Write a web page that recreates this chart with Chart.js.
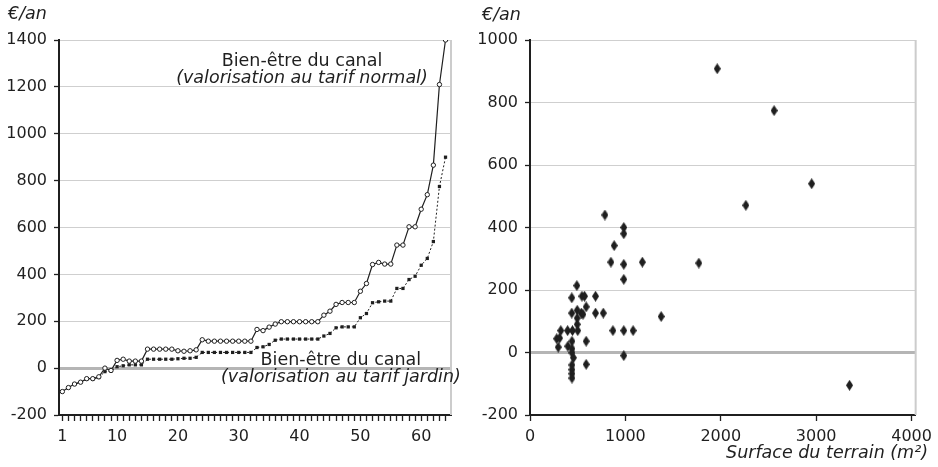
<!DOCTYPE html>
<html lang="fr">
<head>
<meta charset="utf-8">
<title>Bien-être du canal</title>
<script src="https://cdn.jsdelivr.net/npm/chart.js@4.4.1/dist/chart.umd.min.js"></script>
<style>
  html, body { margin: 0; padding: 0; background: #fff; }
  #cadre { position: relative; width: 938px; height: 467px; }
  .panneau { position: absolute; top: 0; width: 469px; height: 467px; }
</style>
</head>
<body>
<div id="cadre">
  <div class="panneau" style="left:0"><canvas id="gauche" width="469" height="467"></canvas></div>
  <div class="panneau" style="left:469px"><canvas id="droite" width="469" height="467"></canvas></div>
</div>
<script>
// Rang des ménages (graphique de gauche)
const rangs = [1,2,3,4,5,6,7,8,9,10,11,12,13,14,15,16,17,18,19,20,21,22,23,24,25,26,27,28,29,30,31,32,
  33,34,35,36,37,38,39,40,41,42,43,44,45,46,47,48,49,50,51,52,53,54,55,56,57,58,59,60,61,62,63,64];

// Bien-être du canal, valorisation au tarif normal (€/an)
const tarifNormal = [-100,-83,-68,-60,-45,-45,-37,0,-10,33,38,30,30,30,81,81,81,81,81,74,72,74,78,121,
  115,115,115,115,115,115,115,115,165,160,175,188,198,198,198,198,198,198,198,226,243,272,280,280,280,
  328,361,442,451,444,444,525,525,603,603,678,740,866,1210,1400];

// Bien-être du canal, valorisation au tarif jardin (€/an)
const tarifJardin = [-100,-83,-68,-60,-47,-47,-40,-15,-12,6,10,14,14,14,38,38,38,38,38,40,42,42,46,67,
  67,67,67,67,67,67,67,67,88,91,101,119,124,124,124,124,124,124,124,137,148,172,176,176,176,
  215,233,279,283,286,286,340,340,378,392,439,468,540,775,900];

// Graphique de droite : surface du terrain (m²) et bien-être (€/an)
const surfaces = [280,310,296,323,394,397,438,438,445,440,440,440,455,440,440,440,440,491,495,495,495,500,
  545,572,539,555,589,589,589,687,687,768,785,848,882,983,983,983,983,869,983,1081,983,1178,1375,
  1770,1963,2263,2559,2953,3350];
const bienEtre = [44,46,17,70,70,20,175,126,70,36,12,-1,-17,-40,-55,-68,-82,214,135,110,90,70,
  180,180,126,122,146,36,-38,180,126,126,440,289,342,400,380,282,234,70,70,70,-10,289,115,
  286,908,471,774,540,-105];

const ticksGauche = [-200,0,200,400,600,800,1000,1200,1400];
const ticksDroiteY = [-200,0,200,400,600,800,1000];
const ticksDroiteX = [0,1000,2000,3000,4000];

const ENCRE = '#1f1f1f';
const POLICE = 'DejaVu Sans';

// Textes libres (titres d'axes et étiquettes des courbes)
const textes = {
  id: 'textes',
  afterDraw(chart, args, opts) {
    const ctx = chart.ctx;
    ctx.save();
    ctx.fillStyle = ENCRE;
    ctx.textBaseline = 'middle';
    for (const t of opts.items || []) {
      ctx.font = (t.italique ? 'italic ' : '') + '17.5px "' + POLICE + '"';
      ctx.textAlign = t.align || 'center';
      const x = t.dx !== undefined ? chart.scales.x.getPixelForValue(t.dx) : t.px;
      const y = t.dy !== undefined ? chart.scales.y.getPixelForValue(t.dy) : t.py;
      ctx.fillText(t.texte, x, y);
    }
    ctx.restore();
  }
};

// Bordure droite grise de la zone de tracé
const bordDroit = {
  id: 'bordDroit',
  beforeDatasetsDraw(chart) {
    const { ctx, chartArea } = chart;
    ctx.save();
    ctx.strokeStyle = '#cccccc';
    ctx.lineWidth = 2;
    ctx.beginPath();
    ctx.moveTo(chartArea.right, chartArea.top);
    ctx.lineTo(chartArea.right, chartArea.bottom);
    ctx.stroke();
    ctx.restore();
  }
};

const grilleY = {
  color: (c) => c.tick && c.tick.value === 0 ? '#b5b5b5' : '#cfcfcf',
  lineWidth: (c) => c.tick && c.tick.value === 0 ? 3 : 1,
  tickColor: ENCRE,
  tickWidth: 1.3,
  tickLength: 5
};

const grilleX = { drawOnChartArea: false, drawTicks: true, tickColor: ENCRE, tickWidth: 1.3, tickLength: 6 };

const policeTicks = { family: POLICE, size: 16 };

// Losange allongé utilisé comme marqueur du nuage de points
function losange() {
  const c = document.createElement('canvas');
  c.width = 7; c.height = 11;
  const g = c.getContext('2d');
  g.fillStyle = ENCRE;
  g.beginPath();
  g.moveTo(3.5, 0); g.lineTo(7, 5.5); g.lineTo(3.5, 11); g.lineTo(0, 5.5);
  g.closePath();
  g.fill();
  return c;
}

new Chart(document.getElementById('gauche'), {
  type: 'line',
  data: {
    datasets: [
      {
        label: 'tarif normal',
        data: rangs.map((r, i) => ({ x: r, y: tarifNormal[i] })),
        borderColor: ENCRE,
        borderWidth: 1.2,
        pointRadius: 2.2,
        pointBackgroundColor: '#ffffff',
        pointBorderColor: ENCRE,
        pointBorderWidth: 1,
        tension: 0
      },
      {
        label: 'tarif jardin',
        data: rangs.map((r, i) => ({ x: r, y: tarifJardin[i] })),
        borderColor: ENCRE,
        borderWidth: 1,
        borderDash: [2, 2],
        pointStyle: 'rect',
        pointRadius: 2.3,
        pointBackgroundColor: ENCRE,
        pointBorderWidth: 0,
        tension: 0
      }
    ]
  },
  options: {
    responsive: false,
    animation: false,
    events: [],
    layout: { padding: { top: 40, right: 18, left: 0, bottom: 0 } },
    plugins: {
      legend: { display: false },
      tooltip: { enabled: false },
      textes: {
        items: [
          { texte: '€/an', italique: true, align: 'left', px: 8, py: 14 },
          { texte: 'Bien-être du canal', dx: 40.4, dy: 1310 },
          { texte: '(valorisation au tarif normal)', italique: true, dx: 40.4, dy: 1237 },
          { texte: 'Bien-être du canal', dx: 46.8, dy: 34 },
          { texte: '(valorisation au tarif jardin)', italique: true, dx: 46.8, dy: -38 }
        ]
      }
    },
    scales: {
      x: {
        type: 'linear',
        min: 0.45,
        max: 64.9,
        afterBuildTicks: (s) => { s.ticks = rangs.map((v) => ({ value: v })); },
        ticks: {
          autoSkip: false,
          maxRotation: 0,
          padding: 6,
          color: ENCRE,
          font: policeTicks,
          callback: (v) => (v === 1 || v % 10 === 0) ? String(v) : ''
        },
        grid: grilleX,
        border: { color: ENCRE, width: 2 },
        afterFit: (s) => { s.height = 52; }
      },
      y: {
        min: -200,
        max: 1400,
        afterBuildTicks: (s) => { s.ticks = ticksGauche.map((v) => ({ value: v })); },
        ticks: { padding: 7, color: ENCRE, font: policeTicks, callback: (v) => String(v) },
        grid: grilleY,
        border: { color: ENCRE, width: 2 },
        afterFit: (s) => { s.width = 59; }
      }
    }
  },
  plugins: [bordDroit, textes]
});

new Chart(document.getElementById('droite'), {
  type: 'scatter',
  data: {
    datasets: [{
      label: 'ménages',
      data: surfaces.map((s, i) => ({ x: s, y: bienEtre[i] })),
      pointStyle: losange(),
      pointRadius: 5
    }]
  },
  options: {
    responsive: false,
    animation: false,
    events: [],
    layout: { padding: { top: 40, right: 8, left: 0, bottom: 0 } },
    plugins: {
      legend: { display: false },
      tooltip: { enabled: false },
      textes: {
        items: [
          { texte: '€/an', italique: true, align: 'left', px: 13, py: 15 },
          { texte: 'Surface du terrain (m²)', italique: true, align: 'right', px: 459, py: 453 }
        ]
      }
    },
    scales: {
      x: {
        type: 'linear',
        min: 0,
        max: 4043,
        afterBuildTicks: (s) => { s.ticks = ticksDroiteX.map((v) => ({ value: v })); },
        ticks: { autoSkip: false, maxRotation: 0, padding: 6, color: ENCRE, font: policeTicks, callback: (v) => String(v) },
        grid: grilleX,
        border: { color: ENCRE, width: 2 },
        afterFit: (s) => { s.height = 52; }
      },
      y: {
        min: -200,
        max: 1000,
        afterBuildTicks: (s) => { s.ticks = ticksDroiteY.map((v) => ({ value: v })); },
        ticks: { padding: 7, color: ENCRE, font: policeTicks, callback: (v) => String(v) },
        grid: grilleY,
        border: { color: ENCRE, width: 2 },
        afterFit: (s) => { s.width = 61; }
      }
    }
  },
  plugins: [bordDroit, textes]
});
</script>
</body>
</html>
